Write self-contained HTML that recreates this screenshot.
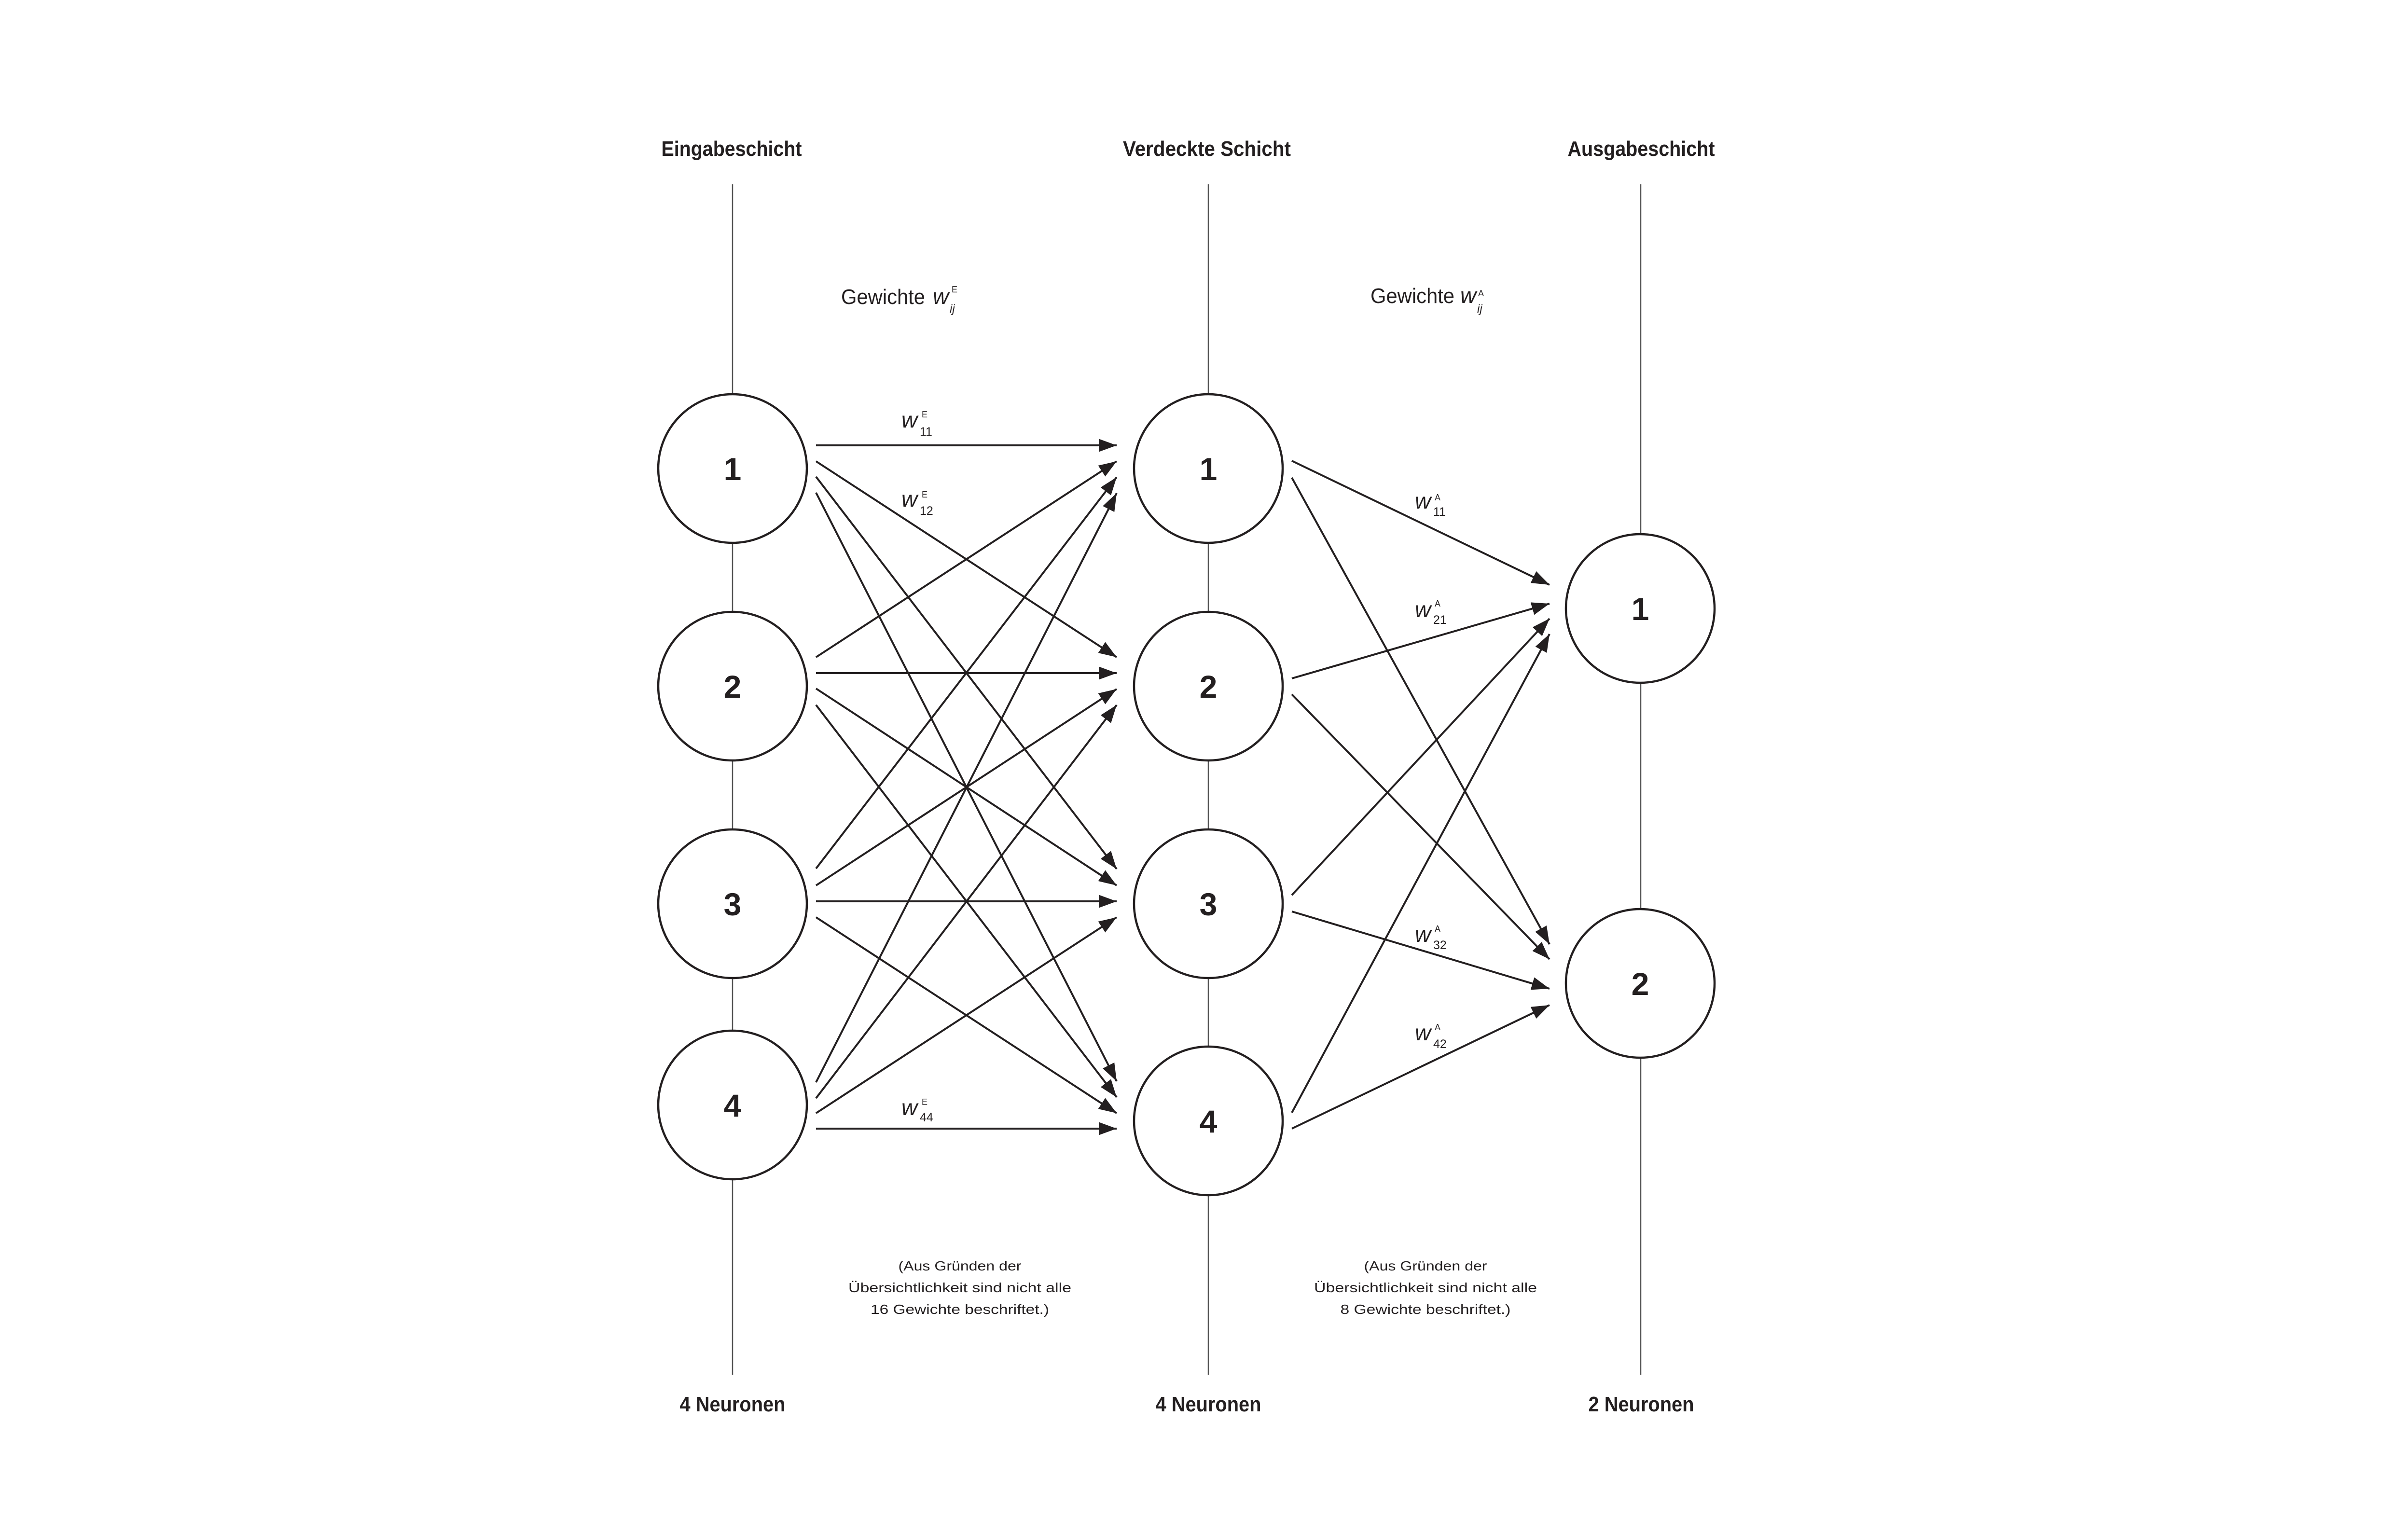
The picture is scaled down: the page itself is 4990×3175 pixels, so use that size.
<!DOCTYPE html>
<html><head><meta charset="utf-8"><style>
html,body{margin:0;padding:0;background:#fff;}
svg{display:block;}
.h{font-family:"Liberation Sans",sans-serif;font-weight:bold;font-size:44px;fill:#231f20;}
.n{font-family:"Liberation Sans",sans-serif;font-weight:bold;font-size:66px;fill:#231f20;}
.t{font-family:"Liberation Sans",sans-serif;font-size:44px;fill:#231f20;}
.s{font-family:"Liberation Sans",sans-serif;font-size:28px;fill:#231f20;}
.w{font-family:"Liberation Sans",sans-serif;font-style:italic;font-size:46px;fill:#231f20;}
.sp{font-family:"Liberation Sans",sans-serif;font-size:18px;fill:#231f20;}
.sb{font-family:"Liberation Sans",sans-serif;font-size:25px;fill:#231f20;}
.ij{font-family:"Liberation Sans",sans-serif;font-style:italic;font-size:24px;fill:#231f20;}
</style></head><body>
<svg width="4990" height="3175" viewBox="0 0 4990 3175" xmlns="http://www.w3.org/2000/svg">
<defs>
<marker id="a" markerUnits="userSpaceOnUse" markerWidth="40" markerHeight="30" refX="37" refY="13.5" orient="auto">
<path d="M0,0 L37,13.5 L0,27 Z" fill="#231f20"/>
</marker>
</defs>
<rect width="4990" height="3175" fill="#fff"/>
<!-- layer lines -->
<g stroke="#555" stroke-width="2.5">
<line x1="1518" y1="382" x2="1518" y2="2849"/>
<line x1="2504" y1="382" x2="2504" y2="2849"/>
<line x1="3400" y1="382" x2="3400" y2="2849"/>
</g>
<!-- headings -->
<text class="h" x="1516" y="323" text-anchor="middle" textLength="291" lengthAdjust="spacingAndGlyphs">Eingabeschicht</text>
<text class="h" x="2501" y="323" text-anchor="middle" textLength="348" lengthAdjust="spacingAndGlyphs">Verdeckte Schicht</text>
<text class="h" x="3401" y="323" text-anchor="middle" textLength="305" lengthAdjust="spacingAndGlyphs">Ausgabeschicht</text>
<text class="h" x="1518" y="2925" text-anchor="middle" textLength="219" lengthAdjust="spacingAndGlyphs">4 Neuronen</text>
<text class="h" x="2504" y="2925" text-anchor="middle" textLength="219" lengthAdjust="spacingAndGlyphs">4 Neuronen</text>
<text class="h" x="3401" y="2925" text-anchor="middle" textLength="219" lengthAdjust="spacingAndGlyphs">2 Neuronen</text>
<!-- Gewichte -->
<text class="t" x="1743" y="630" textLength="174" lengthAdjust="spacingAndGlyphs">Gewichte</text>
<text class="w" x="1933" y="630">w</text>
<text class="sp" x="1972" y="606">E</text>
<text class="ij" x="1968" y="648">ij</text>
<text class="t" x="2840" y="628" textLength="174" lengthAdjust="spacingAndGlyphs">Gewichte</text>
<text class="w" x="3026" y="628">w</text>
<text class="sp" x="3063" y="614">A</text>
<text class="ij" x="3061" y="648">ij</text>
<!-- notes -->
<g class="s" text-anchor="middle">
<text x="1989" y="2633" textLength="255" lengthAdjust="spacingAndGlyphs">(Aus Gründen der</text>
<text x="1989" y="2678" textLength="462" lengthAdjust="spacingAndGlyphs">Übersichtlichkeit  sind nicht alle</text>
<text x="1989" y="2723" textLength="370" lengthAdjust="spacingAndGlyphs">16 Gewichte beschriftet.)</text>
<text x="2954" y="2633" textLength="255" lengthAdjust="spacingAndGlyphs">(Aus Gründen der</text>
<text x="2954" y="2678" textLength="462" lengthAdjust="spacingAndGlyphs">Übersichtlichkeit  sind nicht alle</text>
<text x="2954" y="2723" textLength="353" lengthAdjust="spacingAndGlyphs">8 Gewichte beschriftet.)</text>
</g>
<!-- edges input -> hidden -->
<g stroke="#231f20" stroke-width="4" marker-end="url(#a)">
<line x1="1691" y1="923" x2="2314" y2="923"/>
<line x1="1691" y1="956" x2="2314" y2="1362"/>
<line x1="1691" y1="988" x2="2314" y2="1801"/>
<line x1="1691" y1="1021" x2="2314" y2="2241"/>
<line x1="1691" y1="1362" x2="2314" y2="956"/>
<line x1="1691" y1="1395" x2="2314" y2="1395"/>
<line x1="1691" y1="1427" x2="2314" y2="1835"/>
<line x1="1691" y1="1461" x2="2314" y2="2274"/>
<line x1="1691" y1="1800" x2="2314" y2="989"/>
<line x1="1691" y1="1835" x2="2314" y2="1428"/>
<line x1="1691" y1="1868" x2="2314" y2="1868"/>
<line x1="1691" y1="1901" x2="2314" y2="2307"/>
<line x1="1691" y1="2243" x2="2314" y2="1022"/>
<line x1="1691" y1="2276" x2="2314" y2="1461"/>
<line x1="1691" y1="2307" x2="2314" y2="1901"/>
<line x1="1691" y1="2339" x2="2314" y2="2339"/>
<!-- hidden -> output -->
<line x1="2677" y1="955" x2="3211" y2="1212"/>
<line x1="2677" y1="990" x2="3211" y2="1957"/>
<line x1="2677" y1="1406" x2="3211" y2="1251"/>
<line x1="2677" y1="1439" x2="3211" y2="1988"/>
<line x1="2677" y1="1855" x2="3211" y2="1282"/>
<line x1="2677" y1="1889" x2="3211" y2="2049"/>
<line x1="2677" y1="2306" x2="3211" y2="1314"/>
<line x1="2677" y1="2339" x2="3211" y2="2083"/>
</g>
<!-- nodes -->
<g fill="#fff" stroke="#231f20" stroke-width="4.5">
<circle cx="1518" cy="971" r="154"/>
<circle cx="1518" cy="1422" r="154"/>
<circle cx="1518" cy="1873" r="154"/>
<circle cx="1518" cy="2290" r="154"/>
<circle cx="2504" cy="971" r="154"/>
<circle cx="2504" cy="1422" r="154"/>
<circle cx="2504" cy="1873" r="154"/>
<circle cx="2504" cy="2323" r="154"/>
<circle cx="3399" cy="1261" r="154"/>
<circle cx="3399" cy="2038" r="154"/>
</g>
<g class="n" text-anchor="middle">
<text x="1518" y="995">1</text>
<text x="1518" y="1446">2</text>
<text x="1518" y="1897">3</text>
<text x="1518" y="2314">4</text>
<text x="2504" y="995">1</text>
<text x="2504" y="1446">2</text>
<text x="2504" y="1897">3</text>
<text x="2504" y="2347">4</text>
<text x="3399" y="1285">1</text>
<text x="3399" y="2062">2</text>
</g>
<!-- weight labels E -->
<text class="w" x="1868" y="886">w</text><text class="sp" x="1910" y="865">E</text><text class="sb" x="1906" y="903">11</text>
<text class="w" x="1868" y="1050">w</text><text class="sp" x="1910" y="1031">E</text><text class="sb" x="1906" y="1067">12</text>
<text class="w" x="1868" y="2311">w</text><text class="sp" x="1910" y="2290">E</text><text class="sb" x="1906" y="2324">44</text>
<!-- weight labels A -->
<text class="w" x="2932" y="1054">w</text><text class="sp" x="2973" y="1037">A</text><text class="sb" x="2970" y="1069">11</text>
<text class="w" x="2932" y="1279">w</text><text class="sp" x="2973" y="1257">A</text><text class="sb" x="2970" y="1293">21</text>
<text class="w" x="2932" y="1952">w</text><text class="sp" x="2973" y="1931">A</text><text class="sb" x="2970" y="1967">32</text>
<text class="w" x="2932" y="2156">w</text><text class="sp" x="2973" y="2135">A</text><text class="sb" x="2970" y="2172">42</text>
</svg>
</body></html>
